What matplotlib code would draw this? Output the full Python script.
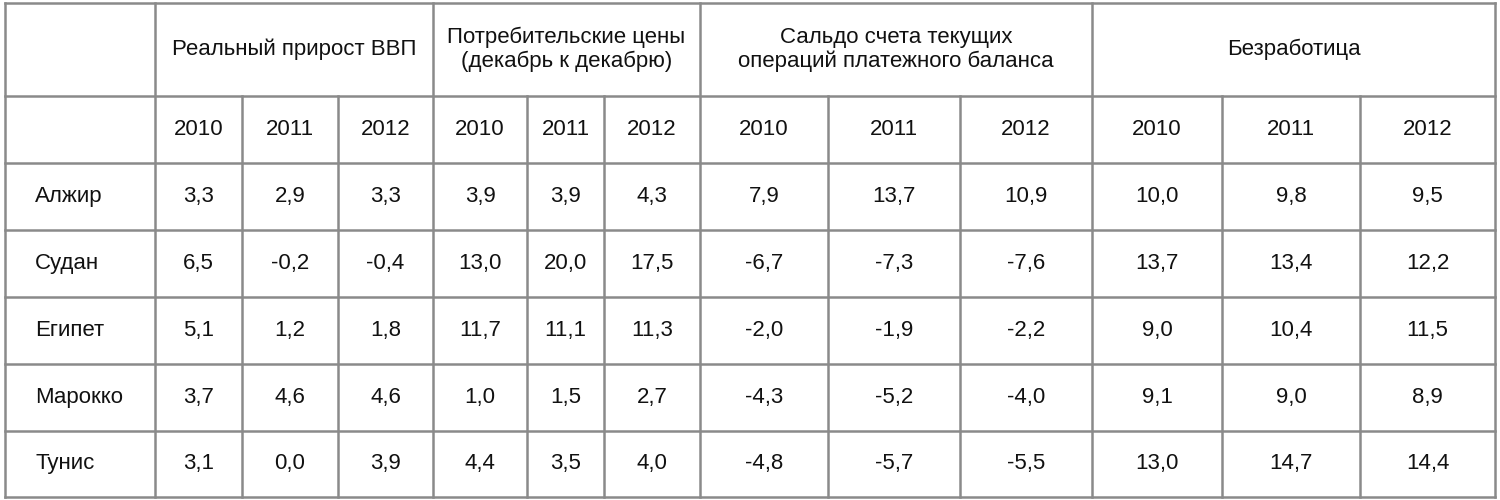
import matplotlib
matplotlib.use("Agg")
import matplotlib.pyplot as plt

groups = ["Реальный прирост ВВП", "Потребительские цены\n(декабрь к декабрю)",
          "Сальдо счета текущих\nопераций платежного баланса", "Безработица"]
years = ["2010", "2011", "2012"]
countries = ["Алжир", "Судан", "Египет", "Марокко", "Тунис"]
gdp = [["3,3", "2,9", "3,3"], ["6,5", "-0,2", "-0,4"], ["5,1", "1,2", "1,8"], ["3,7", "4,6", "4,6"], ["3,1", "0,0", "3,9"]]
cpi = [["3,9", "3,9", "4,3"], ["13,0", "20,0", "17,5"], ["11,7", "11,1", "11,3"], ["1,0", "1,5", "2,7"], ["4,4", "3,5", "4,0"]]
cab = [["7,9", "13,7", "10,9"], ["-6,7", "-7,3", "-7,6"], ["-2,0", "-1,9", "-2,2"], ["-4,3", "-5,2", "-4,0"], ["-4,8", "-5,7", "-5,5"]]
unemp = [["10,0", "9,8", "9,5"], ["13,7", "13,4", "12,2"], ["9,0", "10,4", "11,5"], ["9,1", "9,0", "8,9"], ["13,0", "14,7", "14,4"]]

xs = [5, 155, 242, 338, 433, 527, 604, 700, 828, 960, 1092, 1222, 1360, 1495]
ys = [3, 96, 163, 230, 297, 364, 431, 497]

plt.rcParams['font.family'] = ['Liberation Sans', 'DejaVu Sans']
fig = plt.figure(figsize=(15, 5), dpi=100)
ax = fig.add_axes([0, 0, 1, 1])
ax.set_xlim(0, 1500); ax.set_ylim(500, 0); ax.axis('off')
lc = '#8a8a8a'; lw = 1.8
fs = 16
for i, y in enumerate(ys):
    ax.plot([xs[0], xs[-1]], [y, y], color=lc, lw=lw)
group_edges = [1, 4, 7, 10, 13]
for i, x in enumerate(xs):
    if i in (0, 1) or i in group_edges:
        ax.plot([x, x], [ys[0], ys[-1]], color=lc, lw=lw)
    else:
        ax.plot([x, x], [ys[1], ys[-1]], color=lc, lw=lw)
for g, name in enumerate(groups):
    xa, xb = xs[group_edges[g]], xs[group_edges[g + 1]]
    ax.text((xa + xb) / 2, (ys[0] + ys[1]) / 2, name, ha='center', va='center', fontsize=fs, linespacing=1.15, color='#111111')
for c in range(12):
    ax.text((xs[c + 1] + xs[c + 2]) / 2, (ys[1] + ys[2]) / 2, years[c % 3], ha='center', va='center', fontsize=fs, color='#111111')
tables = [gdp, cpi, cab, unemp]
for r, name in enumerate(countries):
    yc = (ys[r + 2] + ys[r + 3]) / 2
    ax.text(35, yc, name, ha='left', va='center', fontsize=fs, color='#111111')
    for g, t in enumerate(tables):
        for k in range(3):
            c = g * 3 + k
            ax.text((xs[c + 1] + xs[c + 2]) / 2, yc, t[r][k], ha='center', va='center', fontsize=fs, color='#111111')
fig.savefig('out.png', dpi=100, facecolor='white')
